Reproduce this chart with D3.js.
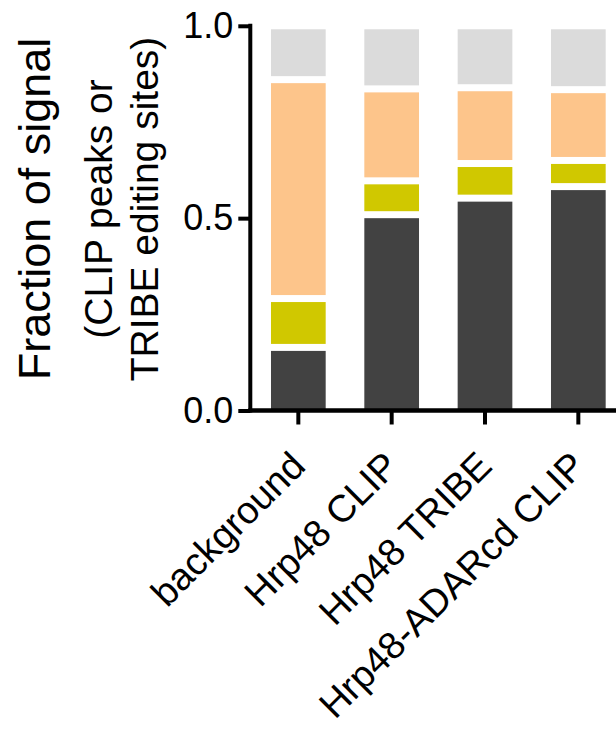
<!DOCTYPE html>
<html>
<head>
<meta charset="utf-8">
<script src="https://cdn.jsdelivr.net/npm/d3@7"></script>
<style>
  html, body { margin: 0; padding: 0; background: #fff; }
  svg { display: block; font-family: "Liberation Sans", Arial, Helvetica, sans-serif; }
</style>
</head>
<body>
<svg id="chart" width="616" height="729"></svg>
<script>
// Stacked fractions per sample (bottom to top)
const categories = ["background", "Hrp48 CLIP", "Hrp48 TRIBE", "Hrp48-ADARcd CLIP"];
const darkValues   = [0.164, 0.509, 0.552, 0.582];
const yellowValues = [0.127, 0.088, 0.090, 0.068];
const orangeValues = [0.569, 0.239, 0.197, 0.184];
const grayValues   = [0.140, 0.164, 0.161, 0.166];
const yTickValues  = [0, 0.5, 1.0];

const seriesKeys = ["dark", "yellow", "orange", "gray"];
const seriesColors = { dark: "#424242", yellow: "#d0c800", orange: "#fdc58b", gray: "#dbdbdb" };

const rows = categories.map((c, i) => ({
  category: c,
  dark: darkValues[i],
  yellow: yellowValues[i],
  orange: orangeValues[i],
  gray: grayValues[i]
}));

const svg = d3.select("#chart");

const axisX = 250.3;
const x = d3.scaleBand()
  .domain(categories)
  .range([251.67, 625])
  .paddingInner(0.414)
  .paddingOuter(0.207);

const y = d3.scaleLinear().domain([0, 1]).range([410.5, 25.8]);

const stacked = d3.stack().keys(seriesKeys)(rows);

// white separation between stacked segments
const gap = 3.5;

svg.append("g")
  .selectAll("g")
  .data(stacked)
  .join("g")
  .attr("fill", d => seriesColors[d.key])
  .selectAll("rect")
  .data(d => d)
  .join("rect")
  .attr("x", d => x(d.data.category))
  .attr("width", x.bandwidth())
  .attr("y", d => y(d[1]) + gap)
  .attr("height", d => {
    const bottom = d[0] === 0 ? y(0) : y(d[0]) - gap;
    return Math.max(0, bottom - (y(d[1]) + gap));
  });

// Y axis
const yAxis = svg.append("g")
  .attr("transform", `translate(${axisX},0)`)
  .call(d3.axisLeft(y)
    .tickValues(yTickValues)
    .tickFormat(d3.format(".1f"))
    .tickSize(12)
    .tickSizeOuter(0)
    .tickPadding(5));
yAxis.select(".domain").attr("stroke", "#000").attr("stroke-width", 4)
  .attr("d", `M0,${y(0) + 2}V${y(1) - 2}`);
yAxis.selectAll(".tick line").attr("stroke", "#000").attr("stroke-width", 4);
yAxis.selectAll(".tick text")
  .attr("fill", "#000")
  .attr("font-size", 36)
  .attr("font-family", "Liberation Sans, Arial, sans-serif");

// X axis
const xAxis = svg.append("g")
  .attr("transform", `translate(0,${y(0)})`)
  .call(d3.axisBottom(x).tickSize(14).tickSizeOuter(0));
xAxis.select(".domain").attr("stroke", "#000").attr("stroke-width", 4.5)
  .attr("d", `M${axisX - 2},0H616`);
xAxis.selectAll(".tick line").attr("stroke", "#000").attr("stroke-width", 4);
xAxis.selectAll(".tick text")
  .attr("fill", "#000")
  .attr("font-size", 38)
  .attr("font-family", "Liberation Sans, Arial, sans-serif")
  .attr("text-anchor", "end")
  .attr("x", 0).attr("y", 0).attr("dy", 0)
  .attr("transform", "translate(9,57.5) rotate(-45)");

// Y axis title
const titleY = 209;
svg.append("text")
  .attr("transform", `translate(50,${titleY}) rotate(-90)`)
  .attr("text-anchor", "middle")
  .attr("font-size", 45)
  .attr("fill", "#000")
  .text("Fraction of signal");
svg.append("text")
  .attr("transform", `translate(112,${titleY}) rotate(-90)`)
  .attr("text-anchor", "middle")
  .attr("font-size", 39)
  .attr("fill", "#000")
  .text("(CLIP peaks or");
svg.append("text")
  .attr("transform", `translate(158,${titleY}) rotate(-90)`)
  .attr("text-anchor", "middle")
  .attr("font-size", 39)
  .attr("fill", "#000")
  .text("TRIBE editing sites)");
</script>
</body>
</html>
